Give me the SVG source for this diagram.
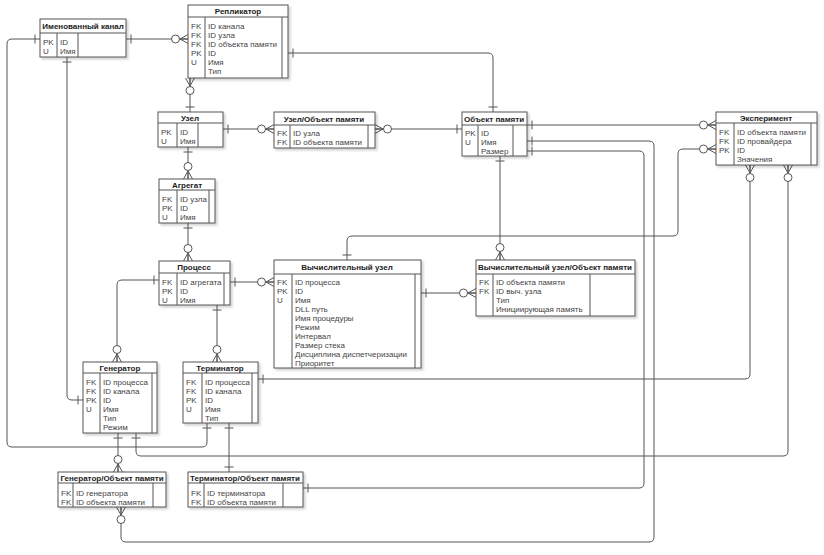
<svg xmlns="http://www.w3.org/2000/svg" width="824" height="555" viewBox="0 0 824 555">
<style>
.bx{fill:#fff;stroke:#555;stroke-width:1;filter:url(#sh)}
.dv{stroke:#555;stroke-width:1;fill:none}
.h{font:bold 8px "Liberation Sans",Arial,sans-serif;fill:#222;text-anchor:middle}
.r{font:8px "Liberation Sans",Arial,sans-serif;fill:#444}
.c{fill:none;stroke:#555;stroke-width:1}
</style>
<defs>
<filter id="sh" x="-10%" y="-10%" width="130%" height="130%"><feDropShadow dx="2" dy="2" stdDeviation="1.2" flood-color="#000" flood-opacity="0.18"/></filter>
<marker id="one" viewBox="-20 -10 30 20" markerWidth="30" markerHeight="20" refX="0" refY="0" markerUnits="userSpaceOnUse" orient="auto-start-reverse"><path d="M-5,-4.5V4.5" stroke="#555" fill="none"/></marker>
<marker id="many" viewBox="-20 -10 30 20" markerWidth="30" markerHeight="20" refX="0" refY="0" markerUnits="userSpaceOnUse" orient="auto-start-reverse"><path d="M-8,0L0,-4.5M-8,0L0,4.5M-8,0H0" stroke="#555" fill="none"/><circle cx="-12.5" cy="0" r="4" fill="#fff" stroke="#555"/></marker>
</defs>
<rect width="824" height="555" fill="#fff"/>

<g id="connectors">
<path class="c" d="M126,39H188" marker-start="url(#one)" marker-end="url(#many)"/>
<path class="c" d="M67,57V395Q67,400 72,400H83" marker-start="url(#one)" marker-end="url(#one)"/>
<path class="c" d="M40,39H12Q7,39 7,44V442Q7,447 12,447H202Q207,447 207,442V423" marker-start="url(#one)" marker-end="url(#one)"/>
<path class="c" d="M190,78V112" marker-start="url(#many)" marker-end="url(#one)"/>
<path class="c" d="M288,53H488Q493,53 493,58V112" marker-start="url(#one)" marker-end="url(#one)"/>
<path class="c" d="M223,129H274" marker-start="url(#one)" marker-end="url(#many)"/>
<path class="c" d="M375,129H462" marker-start="url(#many)" marker-end="url(#one)"/>
<path class="c" d="M188,147V179" marker-start="url(#one)" marker-end="url(#many)"/>
<path class="c" d="M188,223V261" marker-start="url(#one)" marker-end="url(#many)"/>
<path class="c" d="M159,280H122Q117,280 117,285V362" marker-start="url(#one)" marker-end="url(#many)"/>
<path class="c" d="M217,305V362" marker-start="url(#one)" marker-end="url(#many)"/>
<path class="c" d="M230,282H274" marker-start="url(#one)" marker-end="url(#many)"/>
<path class="c" d="M421,293H476" marker-start="url(#one)" marker-end="url(#many)"/>
<path class="c" d="M500,156V260" marker-start="url(#one)" marker-end="url(#many)"/>
<path class="c" d="M527,125H716" marker-start="url(#one)" marker-end="url(#many)"/>
<path class="c" d="M716,149H683Q678,149 678,154V231Q678,236 673,236H352Q347,236 347,241V260" marker-start="url(#many)" marker-end="url(#one)"/>
<path class="c" d="M527,151H639Q644,151 644,156V483Q644,488 639,488H303" marker-start="url(#one)" marker-end="url(#one)"/>
<path class="c" d="M527,141H649Q654,141 654,146V537Q654,542 649,542H126Q121,542 121,537V507" marker-start="url(#one)" marker-end="url(#many)"/>
<path class="c" d="M750,165V374Q750,379 745,379H258" marker-start="url(#many)" marker-end="url(#one)"/>
<path class="c" d="M788,165V451Q788,456 783,456H141Q136,456 136,451V433" marker-start="url(#many)" marker-end="url(#one)"/>
<path class="c" d="M118,433V472" marker-start="url(#one)" marker-end="url(#many)"/>
<path class="c" d="M229,423V472" marker-start="url(#one)" marker-end="url(#one)"/>
</g>

<g id="named-channel">
<rect class="bx" x="40" y="19" width="86" height="38"/>
<path class="dv" d="M40,33H126M57,33V57M78,33V57"/>
<text class="h" x="83" y="29">Именованный канал</text>
<text class="r" x="43" y="45">PK</text><text class="r" x="60" y="45">ID</text>
<text class="r" x="43" y="54">U</text><text class="r" x="60" y="54">Имя</text>
</g>

<g id="replicator">
<rect class="bx" x="188" y="5" width="100" height="73"/>
<path class="dv" d="M188,17H288M205,17V78M282,17V78"/>
<text class="h" x="238" y="14">Репликатор</text>
<text class="r" x="191" y="29">FK</text><text class="r" x="208" y="29">ID канала</text>
<text class="r" x="191" y="38">FK</text><text class="r" x="208" y="38">ID узла</text>
<text class="r" x="191" y="47">FK</text><text class="r" x="208" y="47">ID объекта памяти</text>
<text class="r" x="191" y="56">PK</text><text class="r" x="208" y="56">ID</text>
<text class="r" x="191" y="65">U</text><text class="r" x="208" y="65">Имя</text>
<text class="r" x="208" y="74">Тип</text>
</g>

<g id="node">
<rect class="bx" x="158" y="112" width="65" height="35"/>
<path class="dv" d="M158,123H223M177,123V147M198,123V147"/>
<text class="h" x="190" y="121">Узел</text>
<text class="r" x="161" y="135">PK</text><text class="r" x="180" y="135">ID</text>
<text class="r" x="161" y="144">U</text><text class="r" x="180" y="144">Имя</text>
</g>

<g id="aggregate">
<rect class="bx" x="159" y="179" width="56" height="44"/>
<path class="dv" d="M159,190H215M177,190V223M209,190V223"/>
<text class="h" x="187" y="188">Агрегат</text>
<text class="r" x="162" y="202">FK</text><text class="r" x="180" y="202">ID узла</text>
<text class="r" x="162" y="211">PK</text><text class="r" x="180" y="211">ID</text>
<text class="r" x="162" y="220">U</text><text class="r" x="180" y="220">Имя</text>
</g>

<g id="node-memobj">
<rect class="bx" x="274" y="112" width="101" height="36"/>
<path class="dv" d="M274,125H375M290,125V148M368,125V148"/>
<text class="h" x="324" y="122">Узел/Объект памяти</text>
<text class="r" x="277" y="136">FK</text><text class="r" x="293" y="136">ID узла</text>
<text class="r" x="277" y="145">FK</text><text class="r" x="293" y="145">ID объекта памяти</text>
</g>

<g id="memobj">
<rect class="bx" x="462" y="112" width="65" height="44"/>
<path class="dv" d="M462,125H527M478,125V156M513,125V156"/>
<text class="h" x="494" y="122">Объект памяти</text>
<text class="r" x="465" y="136">PK</text><text class="r" x="481" y="136">ID</text>
<text class="r" x="465" y="145">U</text><text class="r" x="481" y="145">Имя</text>
<text class="r" x="481" y="154">Размер</text>
</g>

<g id="experiment">
<rect class="bx" x="716" y="112" width="101" height="53"/>
<path class="dv" d="M716,123H817M734,123V165M811,123V165"/>
<text class="h" x="766" y="121">Эксперимент</text>
<text class="r" x="719" y="135">FK</text><text class="r" x="737" y="135">ID объекта памяти</text>
<text class="r" x="719" y="144">FK</text><text class="r" x="737" y="144">ID провайдера</text>
<text class="r" x="719" y="153">PK</text><text class="r" x="737" y="153">ID</text>
<text class="r" x="737" y="162">Значения</text>
</g>

<g id="process">
<rect class="bx" x="159" y="261" width="71" height="44"/>
<path class="dv" d="M159,273H230M177,273V305M224,273V305"/>
<text class="h" x="194" y="270">Процесс</text>
<text class="r" x="162" y="285">FK</text><text class="r" x="180" y="285">ID агрегата</text>
<text class="r" x="162" y="294">PK</text><text class="r" x="180" y="294">ID</text>
<text class="r" x="162" y="303">U</text><text class="r" x="180" y="303">Имя</text>
</g>

<g id="compute-node">
<rect class="bx" x="274" y="260" width="147" height="108"/>
<path class="dv" d="M274,274H421M292,274V368M415,274V368"/>
<text class="h" x="347" y="270">Вычислительный узел</text>
<text class="r" x="277" y="285">FK</text><text class="r" x="295" y="285">ID процесса</text>
<text class="r" x="277" y="294">PK</text><text class="r" x="295" y="294">ID</text>
<text class="r" x="277" y="303">U</text><text class="r" x="295" y="303">Имя</text>
<text class="r" x="295" y="312">DLL путь</text>
<text class="r" x="295" y="321">Имя процедуры</text>
<text class="r" x="295" y="330">Режим</text>
<text class="r" x="295" y="339">Интервал</text>
<text class="r" x="295" y="348">Размер стека</text>
<text class="r" x="295" y="357">Дисциплина диспетчеризации</text>
<text class="r" x="295" y="366">Приоритет</text>
</g>

<g id="compute-node-memobj">
<rect class="bx" x="476" y="260" width="159" height="56"/>
<path class="dv" d="M476,274H635M493,274V316M590,274V316"/>
<text class="h" x="555" y="270">Вычислительный узел/Объект памяти</text>
<text class="r" x="479" y="285">FK</text><text class="r" x="496" y="285">ID объекта памяти</text>
<text class="r" x="479" y="294">FK</text><text class="r" x="496" y="294">ID выч. узла</text>
<text class="r" x="496" y="303">Тип</text>
<text class="r" x="496" y="312">Инициирующая память</text>
</g>

<g id="generator">
<rect class="bx" x="83" y="362" width="74" height="71"/>
<path class="dv" d="M83,373H157M100,373V433M152,373V433"/>
<text class="h" x="120" y="371">Генератор</text>
<text class="r" x="86" y="385">FK</text><text class="r" x="103" y="385">ID процесса</text>
<text class="r" x="86" y="394">FK</text><text class="r" x="103" y="394">ID канала</text>
<text class="r" x="86" y="403">PK</text><text class="r" x="103" y="403">ID</text>
<text class="r" x="86" y="412">U</text><text class="r" x="103" y="412">Имя</text>
<text class="r" x="103" y="421">Тип</text>
<text class="r" x="103" y="430">Режим</text>
</g>

<g id="terminator">
<rect class="bx" x="183" y="362" width="75" height="61"/>
<path class="dv" d="M183,373H258M202,373V423M252,373V423"/>
<text class="h" x="220" y="371">Терминатор</text>
<text class="r" x="186" y="385">FK</text><text class="r" x="205" y="385">ID процесса</text>
<text class="r" x="186" y="394">FK</text><text class="r" x="205" y="394">ID канала</text>
<text class="r" x="186" y="403">PK</text><text class="r" x="205" y="403">ID</text>
<text class="r" x="186" y="412">U</text><text class="r" x="205" y="412">Имя</text>
<text class="r" x="205" y="421">Тип</text>
</g>

<g id="generator-memobj">
<rect class="bx" x="58" y="472" width="108" height="35"/>
<path class="dv" d="M58,483H166M73,483V507M153,483V507"/>
<text class="h" x="112" y="481">Генератор/Объект памяти</text>
<text class="r" x="61" y="496">FK</text><text class="r" x="76" y="496">ID генератора</text>
<text class="r" x="61" y="505">FK</text><text class="r" x="76" y="505">ID объекта памяти</text>
</g>

<g id="terminator-memobj">
<rect class="bx" x="188" y="472" width="115" height="35"/>
<path class="dv" d="M188,483H303M204,483V507M283,483V507"/>
<text class="h" x="245" y="481">Терминатор/Объект памяти</text>
<text class="r" x="191" y="496">FK</text><text class="r" x="207" y="496">ID терминатора</text>
<text class="r" x="191" y="505">FK</text><text class="r" x="207" y="505">ID объекта памяти</text>
</g>
</svg>
